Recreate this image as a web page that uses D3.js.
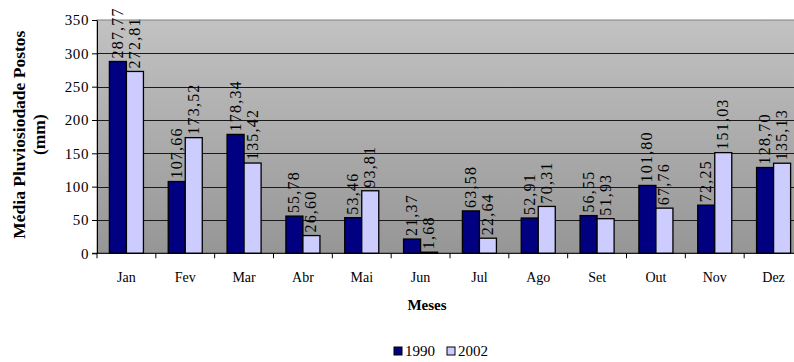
<!DOCTYPE html>
<html>
<head>
<meta charset="utf-8">
<script src="https://cdn.jsdelivr.net/npm/d3@7"></script>
<style>
  html, body { margin: 0; padding: 0; background: #fff; }
  svg { display: block; }
  svg text { font-family: "Times New Roman", "Liberation Serif", Tinos, serif; }
</style>
</head>
<body>
<svg id="chart" width="794" height="362"></svg>
<script>
// Monthly average rainfall (mm) for the two survey years
const months = ["Jan", "Fev", "Mar", "Abr", "Mai", "Jun", "Jul", "Ago", "Set", "Out", "Nov", "Dez"];
const series = ["1990", "2002"];
const values1990 = [287.77, 107.66, 178.34, 55.78, 53.46, 21.37, 63.58, 52.91, 56.55, 101.80, 72.25, 128.70];
const values2002 = [272.81, 173.52, 135.42, 26.60, 93.81, 1.68, 22.64, 70.31, 51.93, 67.76, 151.03, 135.13];
const yTicks = [0, 50, 100, 150, 200, 250, 300, 350];
const colors = { "1990": "#000080", "2002": "#ccccff" };

const svg = d3.select("#chart");
const plot = { left: 97, top: 20, right: 803, bottom: 253.3 };

const x = d3.scaleBand().domain(months).range([plot.left, plot.right]).padding(0);
const x1 = d3.scaleBand().domain(series).range([12.4, x.bandwidth() - 12.4]).padding(0);
const y = d3.scaleLinear().domain([0, 350]).range([plot.bottom, plot.top]);

const fmt = v => d3.format(".2f")(v).replace(".", ",");

// Plot background gradient
const defs = svg.append("defs");
const grad = defs.append("linearGradient").attr("id", "bg").attr("x1", 0).attr("y1", 0).attr("x2", 0).attr("y2", 1);
grad.append("stop").attr("offset", "0%").attr("stop-color", "#c2c2c2");
grad.append("stop").attr("offset", "100%").attr("stop-color", "#969696");

svg.append("rect")
  .attr("x", plot.left).attr("y", plot.top)
  .attr("width", plot.right - plot.left).attr("height", plot.bottom - plot.top)
  .attr("fill", "url(#bg)")
  .attr("stroke", "#808080").attr("stroke-width", 1);

// Horizontal gridlines
svg.append("g").selectAll("line")
  .data(yTicks.filter(t => t > 0 && t < 350))
  .join("line")
  .attr("x1", plot.left).attr("x2", plot.right)
  .attr("y1", d => Math.round(y(d)) + 0.5).attr("y2", d => Math.round(y(d)) + 0.5)
  .attr("stroke", "#1a1a1a").attr("stroke-width", 1);

// Bars
const rows = months.map((m, i) => ({ month: m, vals: [
  { s: "1990", v: values1990[i] },
  { s: "2002", v: values2002[i] }
]}));

const groups = svg.append("g").selectAll("g")
  .data(rows).join("g")
  .attr("transform", d => `translate(${x(d.month)},0)`);

groups.selectAll("rect")
  .data(d => d.vals).join("rect")
  .attr("x", d => x1(d.s))
  .attr("y", d => y(d.v))
  .attr("width", x1.bandwidth())
  .attr("height", d => y(0) - y(d.v))
  .attr("fill", d => colors[d.s])
  .attr("stroke", "#000").attr("stroke-width", 1.3);

// Value labels, rotated above each bar
groups.selectAll("text")
  .data(d => d.vals).join("text")
  .attr("transform", d => `translate(${x1(d.s) + x1.bandwidth() / 2 + 5},${y(d.v) - 3}) rotate(-90)`)
  .attr("font-size", 16)
  .attr("letter-spacing", 1.2)
  .attr("fill", "#000")
  .text(d => fmt(d.v));

// Y axis
const yAxis = d3.axisLeft(y).tickValues(yTicks).tickSize(5).tickSizeOuter(0);
const gy = svg.append("g").attr("transform", `translate(${plot.left},0)`).call(yAxis);
gy.attr("font-family", null);
gy.select(".domain").attr("stroke", "#000");
gy.selectAll(".tick line").attr("stroke", "#000");
gy.selectAll(".tick text")
  .attr("font-size", 15).attr("fill", "#000").attr("x", -8).attr("letter-spacing", 0.6);

// X axis with ticks at category boundaries
const gx = svg.append("g").attr("transform", `translate(0,${plot.bottom})`);
gx.append("line").attr("x1", plot.left - 5).attr("x2", plot.right).attr("y1", 0).attr("y2", 0).attr("stroke", "#000");
gx.selectAll("line.tk")
  .data(months.map(m => x(m)).concat([plot.right]))
  .join("line").attr("class", "tk")
  .attr("x1", d => d).attr("x2", d => d).attr("y1", 0).attr("y2", 5).attr("stroke", "#000");
gx.selectAll("text")
  .data(months).join("text")
  .attr("x", d => x(d) + x.bandwidth() / 2)
  .attr("y", 29)
  .attr("text-anchor", "middle")
  .attr("font-size", 14)
  .text(d => d);

// Axis titles
svg.append("text")
  .attr("x", 427).attr("y", 310)
  .attr("text-anchor", "middle").attr("font-weight", "bold").attr("font-size", 15)
  .text("Meses");

const yTitle = svg.append("text")
  .attr("transform", `translate(25,${(plot.top + plot.bottom) / 2 - 2}) rotate(-90)`)
  .attr("text-anchor", "middle").attr("font-weight", "bold").attr("font-size", 17.5);
yTitle.append("tspan").attr("x", 0).attr("dy", 0).text("Média Pluviosiodade Postos");
yTitle.append("tspan").attr("x", 0).attr("dy", 20).text("(mm)");

// Legend
const legend = svg.append("g").attr("transform", "translate(394,347)");
const items = legend.selectAll("g").data(series).join("g")
  .attr("transform", (d, i) => `translate(${i * 53},0)`);
items.append("rect")
  .attr("width", 8).attr("height", 8)
  .attr("fill", d => colors[d]).attr("stroke", "#000").attr("stroke-width", 1);
items.append("text")
  .attr("x", 11).attr("y", 9)
  .attr("font-size", 15)
  .text(d => d);
</script>
</body>
</html>
